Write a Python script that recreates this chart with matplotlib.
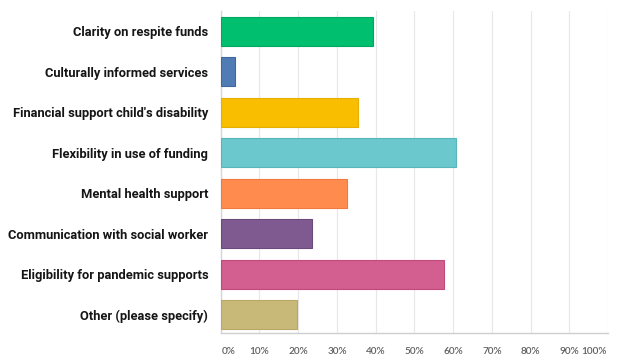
import matplotlib
matplotlib.use("Agg")
import matplotlib.pyplot as plt

# answer options, top to bottom
categories = [
    "Clarity on respite funds",
    "Culturally informed services",
    "Financial support child's disability",
    "Flexibility in use of funding",
    "Mental health support",
    "Communication with social worker",
    "Eligibility for pandemic supports",
    "Other (please specify)",
]
percent = [39.2, 3.6, 35.5, 60.6, 32.6, 23.6, 57.7, 19.8]
colors = ["#00bf6f", "#507cb6", "#f9be00", "#6bc8cd", "#ff8b4f", "#7f5a90", "#d25f90", "#c9b978"]
edges = ["#00a862", "#3f68a0", "#e5ae00", "#58b6bb", "#f07a3e", "#6c4a7e", "#c04a7c", "#b8a866"]
tick_vals = [0, 10, 20, 30, 40, 50, 60, 70, 80, 90, 100]
tick_labels = [f"{t}%" for t in tick_vals]

fig = plt.figure(figsize=(6.2, 3.64), dpi=100)
ax = fig.add_axes([0.356, 0.085, 0.625, 0.885])

ypos = list(range(len(categories)))
ax.barh(ypos, percent, height=0.72, color=colors, edgecolor=edges, linewidth=0.8, zorder=3)

ax.set_xlim(0, 100)
ax.set_ylim(7.45, -0.5)

# vertical grid lines
ax.set_xticks(tick_vals)
ax.grid(axis="x", color="#e8e8e8", linewidth=0.9, zorder=0)
ax.tick_params(axis="x", length=0, labelbottom=False)
ax.tick_params(axis="y", length=0, pad=9)
ax.set_yticks(ypos)
ax.set_yticklabels(categories, fontsize=9.3, fontweight="bold", color="#151515",
                   family=["Roboto", "DejaVu Sans"])

# percentage labels under the axis, ends pushed inwards
for t, lab in zip(tick_vals, tick_labels):
    ha = "center"
    x = t
    if t == 0:
        ha = "left"
        x = 0.3
    elif t == 100:
        ha = "right"
        x = 99.5
    ax.text(x, -0.056, lab, transform=ax.get_xaxis_transform(), ha=ha, va="center",
            fontsize=7.2, fontweight="semibold", color="#5e5e5e", family=["Lato", "DejaVu Sans"])

for side in ["top", "right"]:
    ax.spines[side].set_visible(False)
ax.spines["left"].set_color("#d6d6d6")
ax.spines["bottom"].set_color("#cfcfcf")
ax.spines["left"].set_linewidth(1)
ax.spines["bottom"].set_linewidth(1)

fig.savefig("out.png", dpi=100, facecolor="white")
